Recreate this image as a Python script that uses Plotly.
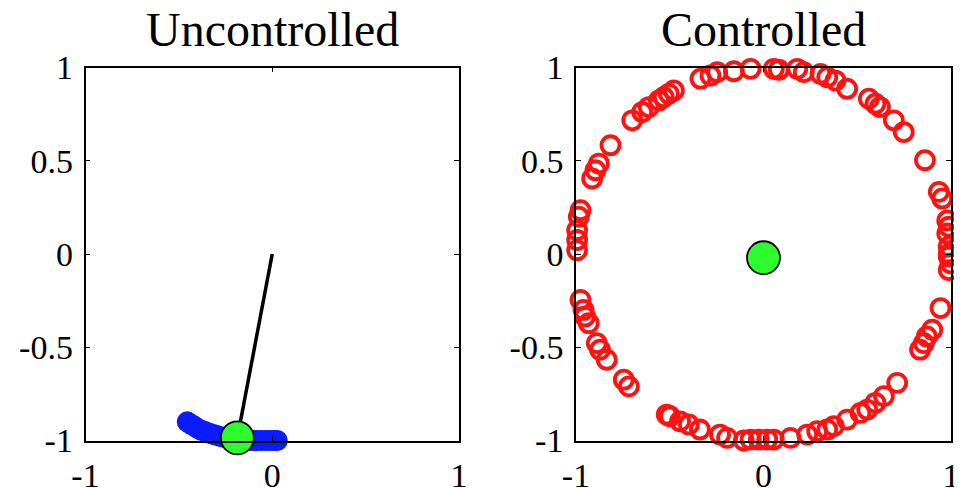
import plotly.graph_objects as go

# ---------------- data ----------------
# Uncontrolled: trail of bob positions (blue), rod, current bob (green)
trail_x = [-0.455, -0.44, -0.42, -0.40, -0.38, -0.36, -0.34, -0.32, -0.30, -0.28,
           -0.26, -0.24, -0.22, -0.20, -0.18, -0.16, -0.14, -0.12, -0.10, -0.08,
           -0.06, -0.04, -0.02, 0.0, 0.015, 0.027]
trail_y = [-0.900, -0.910, -0.922, -0.935, -0.945, -0.952, -0.960, -0.966, -0.972, -0.978,
           -0.983, -0.988, -0.992, -0.995, -0.998, -0.999, -1.0, -1.0, -1.0, -1.0,
           -1.0, -1.0, -1.0, -1.0, -1.0, -1.0]
rod_x = [0.0, -0.187]
rod_y = [0.0, -0.986]
bob_unc_x = [-0.187]
bob_unc_y = [-0.986]

# Controlled: red open circles (bob positions) and green pivot marker
ctrl_x = [-0.336, -0.283, -0.247, -0.158, -0.069, 0.055, 0.082, 0.18, 0.215, 0.304,
          0.34, 0.384, 0.446, 0.562, 0.597, 0.621, 0.695, 0.748, 0.861, 0.935,
          0.953, 0.98, 0.988, 0.98, 0.988, 0.988,
          -0.478, -0.505, -0.532, -0.558, -0.612, -0.647, -0.70, -0.816, -0.878, -0.896,
          -0.914, -0.976, -0.985, -0.994, -0.994, -0.994,
          0.988, 0.997, 0.988, 0.944, 0.90, 0.871, 0.855, 0.835, 0.713, 0.642,
          0.597, 0.553, 0.517, 0.446, 0.375, 0.34, 0.286, 0.233, 0.144, 0.055,
          0.02, -0.025, -0.069, -0.105, -0.194, -0.232, -0.339, -0.398, -0.445, -0.499,
          -0.516, -0.718, -0.745, -0.836, -0.872, -0.889, -0.932, -0.952, -0.96, -0.976]
ctrl_y = [0.94, 0.957, 0.975, 0.98, 0.993, 0.993, 0.988, 0.993, 0.975, 0.966,
          0.948, 0.93, 0.886, 0.833, 0.806, 0.788, 0.717, 0.654, 0.503, 0.333,
          0.298, 0.18, 0.146, 0.11, 0.04, 0.0,
          0.877, 0.859, 0.841, 0.823, 0.788, 0.761, 0.717, 0.583, 0.485, 0.449,
          0.405, 0.235, 0.20, 0.128, 0.075, 0.02,
          -0.014, -0.05, -0.086, -0.29, -0.406, -0.442, -0.478, -0.513, -0.691, -0.762,
          -0.798, -0.834, -0.852, -0.888, -0.923, -0.941, -0.95, -0.968, -0.986, -0.995,
          -0.995, -0.995, -0.995, -1.0, -0.986, -0.968, -0.941, -0.914, -0.897, -0.87,
          -0.861, -0.71, -0.674, -0.567, -0.513, -0.478, -0.371, -0.335, -0.30, -0.246]
pivot_x = [0.0]
pivot_y = [-0.02]

titles = ["Uncontrolled", "Controlled"]
xtick_vals = [-1, 0, 1]
xtick_text = ["-1", "0", "1"]
ytick_vals = [-1, -0.5, 0, 0.5, 1]
ytick_text = ["-1", "-0.5", "0", "0.5", "1"]

# ---------------- figure ----------------
W, H = 962, 488
OFF = 8  # page body margin offset
FONT = "Liberation Serif"
GREEN = "#2dfc2d"
RED = "#ff1212"

fig = go.Figure()
fig.add_trace(go.Scatter(x=trail_x, y=trail_y, mode="markers", xaxis="x", yaxis="y",
                         marker=dict(size=21, color="#0a1cff", line=dict(width=0)),
                         cliponaxis=False, showlegend=False))
fig.add_trace(go.Scatter(x=rod_x, y=rod_y, mode="lines", xaxis="x", yaxis="y",
                         line=dict(color="black", width=3.5),
                         cliponaxis=False, showlegend=False))
fig.add_trace(go.Scatter(x=bob_unc_x, y=bob_unc_y, mode="markers", xaxis="x", yaxis="y",
                         marker=dict(size=33, color=GREEN, line=dict(color="black", width=1.8)),
                         cliponaxis=False, showlegend=False))
fig.add_trace(go.Scatter(x=ctrl_x, y=ctrl_y, mode="markers", xaxis="x2", yaxis="y2",
                         marker=dict(size=18, color="rgba(255,255,255,0)", symbol="circle",
                                     line=dict(color=RED, width=3.8)),
                         cliponaxis=False, showlegend=False))
fig.add_trace(go.Scatter(x=pivot_x, y=pivot_y, mode="markers", xaxis="x2", yaxis="y2",
                         marker=dict(size=33, color=GREEN, line=dict(color="black", width=1.8)),
                         cliponaxis=False, showlegend=False))

def px_x(a, b):
    return [(a - OFF) / W, (b - OFF) / W]

def px_y(top, bottom):
    return [1 - (bottom - OFF) / H, 1 - (top - OFF) / H]

axis_common = dict(range=[-1, 1], showgrid=False, zeroline=False, showline=True,
                   linecolor="black", linewidth=1.6, mirror="ticks", ticks="inside",
                   ticklen=5, tickwidth=1.4, tickcolor="black", ticklabelstandoff=4,
                   tickfont=dict(family=FONT, size=34, color="black"))

xd1 = px_x(85.5, 459)
xd2 = px_x(576, 951)
yd = px_y(67.5, 440.5)

fig.update_layout(
    width=W, height=H, margin=dict(l=0, r=0, t=0, b=0, autoexpand=False),
    paper_bgcolor="white", plot_bgcolor="white",
    xaxis=dict(domain=xd1, anchor="y", tickvals=xtick_vals, ticktext=xtick_text, **axis_common),
    yaxis=dict(domain=yd, anchor="x", tickvals=ytick_vals, ticktext=ytick_text, **axis_common),
    xaxis2=dict(domain=xd2, anchor="y2", tickvals=xtick_vals, ticktext=xtick_text, **axis_common),
    yaxis2=dict(domain=yd, anchor="x2", tickvals=ytick_vals, ticktext=ytick_text, **axis_common),
)

for title, dom in zip(titles, [xd1, xd2]):
    fig.add_annotation(text=title, xref="paper", yref="paper",
                       x=(dom[0] + dom[1]) / 2, y=1 - (30 - OFF) / H, xanchor="center",
                       yanchor="middle", showarrow=False,
                       font=dict(family=FONT, size=48, color="black"))

fig.write_html("out.html")
